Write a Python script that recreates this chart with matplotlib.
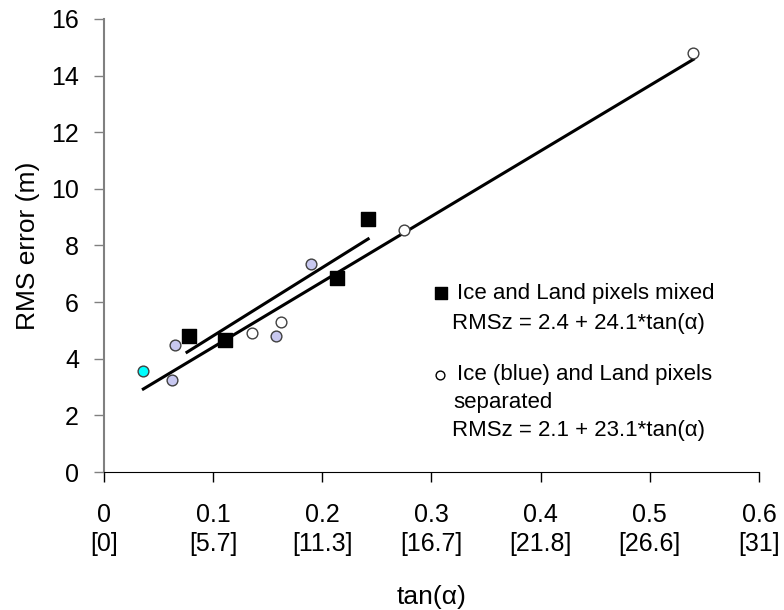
#!/usr/bin/env python

import numpy as np
import matplotlib
matplotlib.use('Agg')
import matplotlib.pyplot as plt

plt.rcParams['font.family'] = ['Liberation Sans', 'DejaVu Sans']

# mixed ice and land pixels
mixed_x = [0.078, 0.111, 0.213, 0.242]
mixed_y = [4.8, 4.65, 6.85, 8.95]

# separated: ice (blue), land (open), one cyan point
ice_x = [0.062, 0.065, 0.158, 0.190]
ice_y = [3.25, 4.5, 4.82, 7.35]
land_x = [0.136, 0.162, 0.275, 0.540]
land_y = [4.9, 5.3, 8.55, 14.8]
cyan_x = [0.036]
cyan_y = [3.55]

# fits: intercept, slope, x range
fit_mixed = (2.4, 24.1, 0.076, 0.242)
fit_sep = (2.1, 23.1, 0.036, 0.540)

xticks = [0, 0.1, 0.2, 0.3, 0.4, 0.5, 0.6]
xdeg = ['0', '5.7', '11.3', '16.7', '21.8', '26.6', '31']
yticks = [0, 2, 4, 6, 8, 10, 12, 14, 16]

fig = plt.figure(figsize=(7.84, 6.10), dpi=100)
ax = fig.add_axes([0.1327, 0.2262, 0.968 - 0.1327, 0.9689 - 0.2262])

for a, b, x0, x1 in [fit_mixed, fit_sep]:
    x = np.array([x0, x1])
    ax.plot(x, a + b * x, color='black', lw=2.2, zorder=2)

edge = '#404040'
ax.scatter(mixed_x, mixed_y, marker='s', s=90, color='black', zorder=3)
ax.scatter(ice_x, ice_y, marker='o', s=60, facecolor='#c8c8f0', edgecolor=edge, lw=1, zorder=3)
ax.scatter(land_x, land_y, marker='o', s=60, facecolor='white', edgecolor=edge, lw=1, zorder=3)
ax.scatter(cyan_x, cyan_y, marker='o', s=60, facecolor='#00ffff', edgecolor=edge, lw=1, zorder=3)

ax.set_xlim(0, 0.6)
ax.set_ylim(0, 16)
ax.set_xticks(xticks)
ax.set_xticklabels(['{}\n[{}]'.format('0' if t == 0 else t, d) for t, d in zip(xticks, xdeg)],
                   linespacing=1.3)
ax.set_yticks(yticks)
ax.tick_params(axis='x', direction='out', length=7, width=1, pad=15, labelsize=18)
ax.tick_params(axis='y', direction='out', length=7, width=1, color='#808080', pad=11, labelsize=18)

ax.spines['right'].set_visible(False)
ax.spines['top'].set_visible(False)
ax.spines['left'].set_color('#808080')
ax.spines['left'].set_linewidth(1.5)
ax.spines['bottom'].set_color('black')

ax.set_xlabel('tan(α)', fontsize=19, labelpad=21)
ax.set_ylabel('RMS error (m)', fontsize=19, labelpad=8)

# legend as text
kw = dict(fontsize=16, va='center')
ax.scatter([0.309], [6.32], marker='s', s=80, color='black', clip_on=False)
ax.text(0.323, 6.32, 'Ice and Land pixels mixed', **kw)
ax.text(0.319, 5.23, 'RMSz = 2.4 + 24.1*tan(α)', **kw)
ax.scatter([0.308], [3.43], marker='o', s=40, facecolor='white', edgecolor='black', lw=1, clip_on=False)
ax.text(0.323, 3.43, 'Ice (blue) and Land pixels', **kw)
ax.text(0.320, 2.47, 'separated', **kw)
ax.text(0.319, 1.48, 'RMSz = 2.1 + 23.1*tan(α)', **kw)

fig.savefig('out.png', dpi=100)
